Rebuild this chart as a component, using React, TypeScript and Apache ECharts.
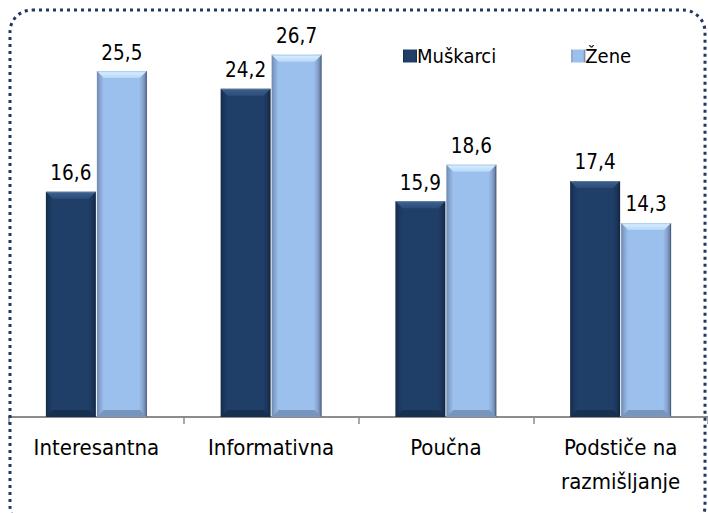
import React, { useEffect, useRef } from "react";
import * as echarts from "echarts";

const categories = ["Interesantna", "Informativna", "Poučna", "Podstiče na\nrazmišljanje"];
const seriesNames = ["Muškarci", "Žene"];
const muskarci = [16.6, 24.2, 15.9, 17.4];
const zene = [25.5, 26.7, 18.6, 14.3];

const FONT = "'DejaVu Sans Condensed', 'DejaVu Sans', sans-serif";
const BAR_W = 50;
const BEVEL = 7;

const darkFill = new echarts.graphic.LinearGradient(0, 0, 1, 0, [
  { offset: 0, color: "#142b4a" },
  { offset: 0.08, color: "#1c3860" },
  { offset: 0.16, color: "#203f68" },
  { offset: 0.84, color: "#203f68" },
  { offset: 0.93, color: "#1b365b" },
  { offset: 1, color: "#122541" },
]);
const lightFill = new echarts.graphic.LinearGradient(0, 0, 1, 0, [
  { offset: 0, color: "#6c88b0" },
  { offset: 0.06, color: "#85a4cf" },
  { offset: 0.14, color: "#9cc0ee" },
  { offset: 0.84, color: "#9cc0ee" },
  { offset: 0.92, color: "#86a3cc" },
  { offset: 0.97, color: "#6b84a8" },
  { offset: 1, color: "#2f4565" },
]);

const bevelStyles = [
  {
    top: new echarts.graphic.LinearGradient(0, 0, 0, 1, [
      { offset: 0, color: "#6a89b3" },
      { offset: 0.2, color: "#3a5c87" },
      { offset: 1, color: "#2c4d7a" },
    ]),
    bottom: "#172f50",
    side: -1,
  },
  {
    top: new echarts.graphic.LinearGradient(0, 0, 0, 1, [
      { offset: 0, color: "#a9c6ea" },
      { offset: 0.25, color: "#d2ebff" },
      { offset: 1, color: "#b6d6f8" },
    ]),
    bottom: "#7895bd",
    side: 1,
  },
];

const fmt = (p: any) => String(p.value).replace(".", ",");

function bevelSeries(values: number[], idx: number) {
  const st = bevelStyles[idx];
  return {
    type: "custom",
    silent: true,
    z: 5,
    data: values.map((v, i) => [i, v]),
    renderItem: (_params: any, api: any) => {
      const ci = api.value(0);
      const v = api.value(1);
      const top = api.coord([ci, v]);
      const base = api.coord([ci, 0]);
      const cx = top[0];
      const x0 = st.side < 0 ? cx - BAR_W - 0.5 : cx + 0.5;
      const x1 = x0 + BAR_W;
      const y0 = top[1];
      const yb = base[1];
      return {
        type: "group",
        children: [
          {
            type: "polygon",
            shape: {
              points: [
                [x0, y0],
                [x1, y0],
                [x1 - BEVEL, y0 + BEVEL],
                [x0 + BEVEL, y0 + BEVEL],
              ],
            },
            style: { fill: st.top },
          },
          {
            type: "polygon",
            shape: {
              points: [
                [x0, yb],
                [x1, yb],
                [x1 - BEVEL, yb - BEVEL],
                [x0 + BEVEL, yb - BEVEL],
              ],
            },
            style: { fill: st.bottom },
          },
        ],
      };
    },
  };
}

const labelStyle = {
  show: true,
  position: "top",
  distance: 8,
  formatter: fmt,
  fontFamily: FONT,
  fontSize: 20.5,
  color: "#000",
};

export default function App() {
  const ref = useRef<HTMLDivElement>(null);
  useEffect(() => {
    if (!ref.current) return;
    const chart = echarts.init(ref.current, undefined, { renderer: "svg" });
    chart.setOption({
      animation: false,
      backgroundColor: "#ffffff",
      textStyle: { fontFamily: FONT },
      graphic: [
        {
          type: "rect",
          shape: { x: 10, y: 10, width: 695, height: 518, r: 22 },
          style: { fill: "none", stroke: "#1f3864", lineWidth: 3, lineDash: [3, 4] },
          z: 100,
        },
      ],
      legend: {
        left: 398,
        top: 41,
        itemWidth: 14,
        itemHeight: 13,
        itemGap: 75,
        icon: "rect",
        textStyle: { fontFamily: FONT, fontSize: 20, color: "#000", padding: [0, 0, 0, -5] },
        data: seriesNames,
      },
      grid: { left: 9, right: -5, top: 10, bottom: 96 },
      xAxis: {
        type: "category",
        data: categories,
        axisLine: { lineStyle: { color: "#8c8c8c", width: 2 } },
        axisTick: { show: true, length: 7, lineStyle: { color: "#8c8c8c", width: 1.5 } },
        axisLabel: {
          fontFamily: FONT,
          fontSize: 22,
          color: "#000",
          margin: 13,
          lineHeight: 34,
          interval: 0,
        },
      },
      yAxis: {
        type: "value",
        min: 0,
        max: 30,
        show: false,
        splitLine: { show: false },
      },
      series: [
        {
          name: seriesNames[0],
          type: "bar",
          data: muskarci,
          barWidth: BAR_W,
          barGap: "2%",
          itemStyle: { color: darkFill },
          label: labelStyle,
        },
        {
          name: seriesNames[1],
          type: "bar",
          data: zene,
          barWidth: BAR_W,
          barGap: "2%",
          itemStyle: { color: lightFill },
          label: labelStyle,
        },
        bevelSeries(muskarci, 0),
        bevelSeries(zene, 1),
      ],
    });
    return () => chart.dispose();
  }, []);
  return <div ref={ref} style={{ width: 708, height: 513, position: "absolute", left: 0, top: 0 }} />;
}
